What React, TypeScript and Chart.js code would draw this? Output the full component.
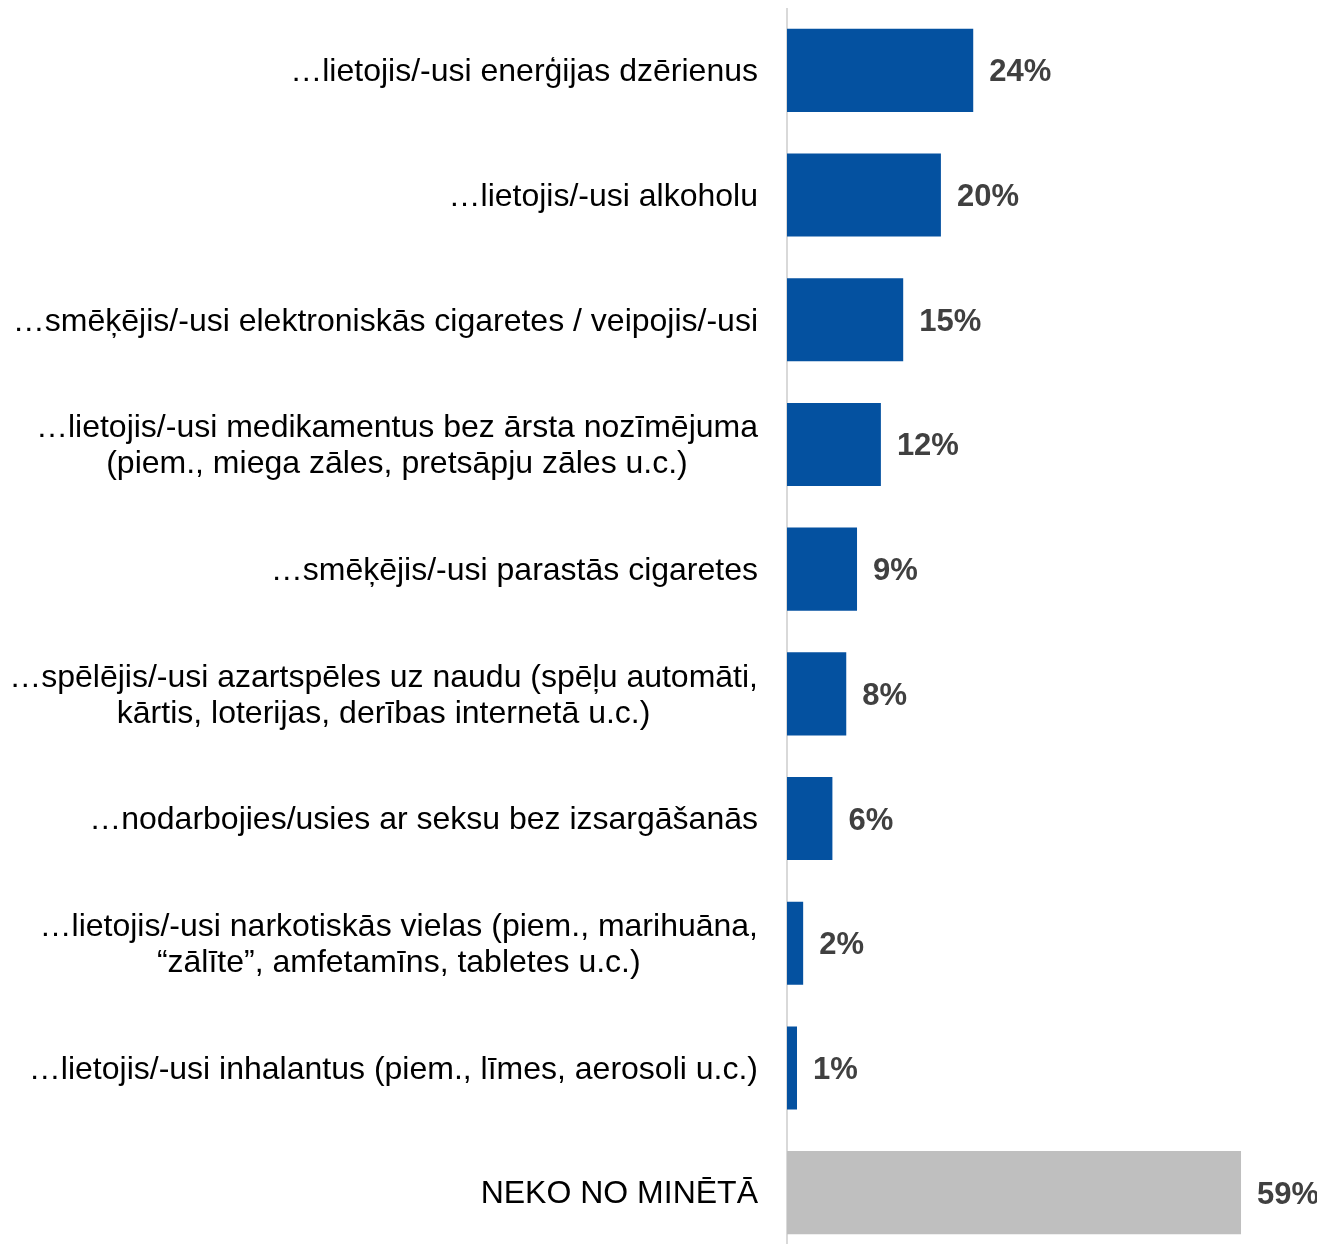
import React, { useEffect, useRef } from "react";
import { Chart, registerables } from "chart.js";

Chart.register(...registerables);

const categories: (string | string[])[] = [
  "…lietojis/-usi enerģijas dzērienus",
  "…lietojis/-usi alkoholu",
  "…smēķējis/-usi elektroniskās cigaretes / veipojis/-usi",
  ["…lietojis/-usi medikamentus bez ārsta nozīmējuma", "(piem., miega zāles, pretsāpju zāles u.c.)"],
  "…smēķējis/-usi parastās cigaretes",
  ["…spēlējis/-usi azartspēles uz naudu (spēļu automāti,", "kārtis, loterijas, derības internetā u.c.)"],
  "…nodarbojies/usies ar seksu bez izsargāšanās",
  ["…lietojis/-usi narkotiskās vielas (piem., marihuāna,", "“zālīte”, amfetamīns, tabletes u.c.)"],
  "…lietojis/-usi inhalantus (piem., līmes, aerosoli u.c.)",
  "NEKO NO MINĒTĀ",
];

const values: number[] = [24.2, 20, 15.1, 12.2, 9.1, 7.7, 5.9, 2.1, 1.3, 59];

const BLUE = "#0451A0";
const GRAY = "#BFBFBF";
const barColors: string[] = [BLUE, BLUE, BLUE, BLUE, BLUE, BLUE, BLUE, BLUE, BLUE, GRAY];

const FONT = "'Liberation Sans', Arial, sans-serif";

const valueLabelPlugin = {
  id: "valueLabels",
  afterDatasetsDraw(chart: any) {
    const ctx = chart.ctx;
    const meta = chart.getDatasetMeta(0);
    ctx.save();
    ctx.font = `bold 31px ${FONT}`;
    ctx.fillStyle = "#404040";
    ctx.textAlign = "left";
    ctx.textBaseline = "middle";
    meta.data.forEach((bar: any, i: number) => {
      const v = values[i];
      ctx.fillText(`${Math.round(v)}%`, bar.x + 16, bar.y + 2.5);
    });
    ctx.restore();
  },
};

// Category labels: block right-aligned near the axis, lines centred within the block
const categoryLabelPlugin = {
  id: "categoryLabels",
  afterDraw(chart: any) {
    const ctx = chart.ctx;
    const yScale = chart.scales.y;
    const rightEdge = chart.chartArea.left - 29;
    const lineH = 36;
    ctx.save();
    ctx.font = `32px ${FONT}`;
    ctx.fillStyle = "#000000";
    ctx.textAlign = "center";
    ctx.textBaseline = "middle";
    categories.forEach((c, i) => {
      const lines = Array.isArray(c) ? c : [c];
      const maxW = Math.max(...lines.map((l) => ctx.measureText(l).width));
      const cx = rightEdge - maxW / 2;
      const yc = yScale.getPixelForTick(i) + 2;
      const y0 = yc - ((lines.length - 1) * lineH) / 2;
      lines.forEach((l, j) => ctx.fillText(l, cx, y0 + j * lineH));
    });
    ctx.restore();
  },
};

export default function App() {
  const canvasRef = useRef<HTMLCanvasElement | null>(null);

  useEffect(() => {
    document.documentElement.style.overflow = "hidden";
    const canvas = canvasRef.current;
    if (!canvas) return;
    const chart = new Chart(canvas, {
      type: "bar",
      data: {
        labels: categories,
        datasets: [
          {
            data: values,
            backgroundColor: barColors,
            borderWidth: 0,
            barPercentage: 0.666,
            categoryPercentage: 1,
          },
        ],
      },
      options: {
        indexAxis: "y",
        animation: false,
        responsive: false,
        maintainAspectRatio: false,
        layout: { padding: { left: 0, right: 37.5, top: 0, bottom: 0 } },
        plugins: {
          legend: { display: false },
          tooltip: { enabled: false },
        },
        scales: {
          x: {
            display: false,
            min: 0,
            max: 64,
          },
          y: {
            grid: { display: false, drawTicks: false },
            border: { display: true, color: "#D9D9D9", width: 2 },
            ticks: { display: false },
            afterFit(scale: any) {
              scale.width = 779;
              scale.paddingTop = 0;
              scale.paddingBottom = 0;
            },
          },
        },
      },
      plugins: [valueLabelPlugin, categoryLabelPlugin],
    } as any);
    return () => chart.destroy();
  }, []);

  return (
    <div style={{ width: 1309, height: 1247 }}>
      <canvas ref={canvasRef} width={1309} height={1247} style={{ display: "block" }} />
    </div>
  );
}
